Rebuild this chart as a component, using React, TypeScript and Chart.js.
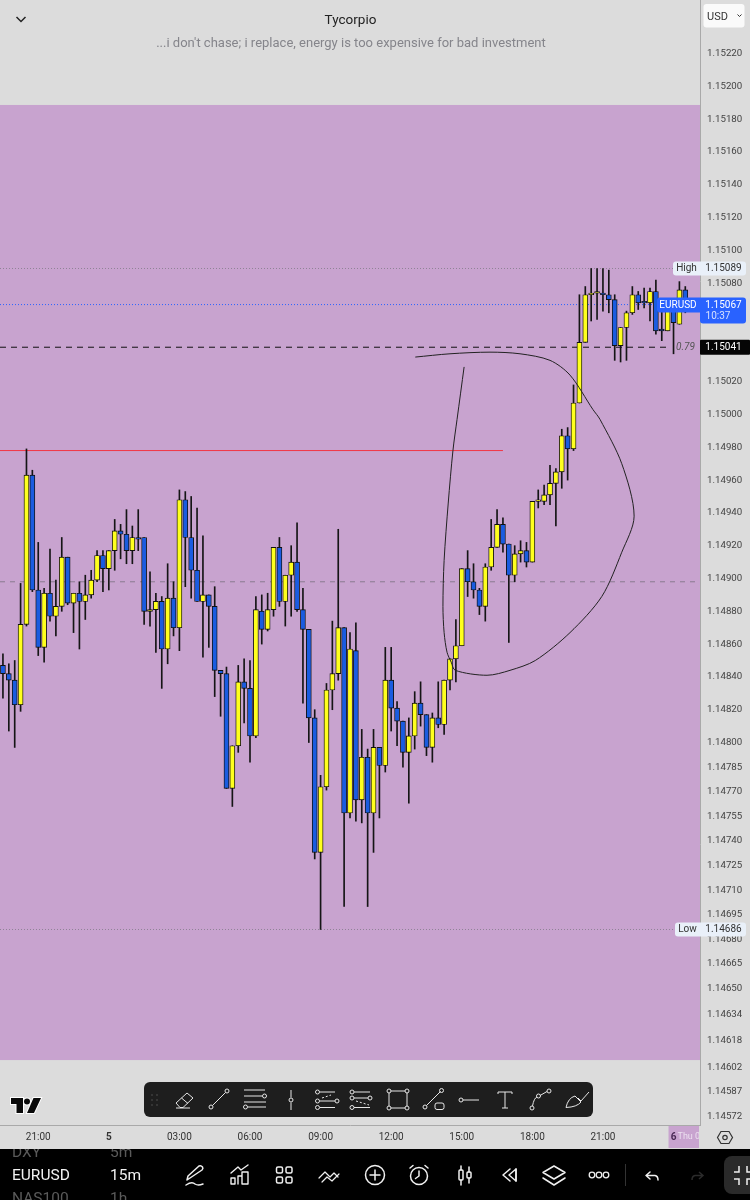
import React, { useEffect, useRef } from "react";
import { Chart, registerables } from "chart.js";

Chart.register(...registerables);

const timeSlots = [
  "19:30","19:45","20:00","20:15","20:30","20:45","21:00","21:15","21:30","21:45","22:00","22:15",
  "22:30","22:45","23:00","23:15","23:30","23:45","00:00","00:15","00:30","00:45","01:00","01:15",
  "01:30","01:45","02:00","02:15","02:30","02:45","03:00","03:15","03:30","03:45","04:00","04:15",
  "04:30","04:45","05:00","05:15","05:30","05:45","06:00","06:15","06:30","06:45","07:00","07:15",
  "07:30","07:45","08:00","08:15","08:30","08:45","09:00","09:15","09:30","09:45","10:00","10:15",
  "10:30","10:45","11:00","11:15","11:30","11:45","12:00","12:15","12:30","12:45","13:00","13:15",
  "13:30","13:45","14:00","14:15","14:30","14:45","15:00","15:15","15:30","15:45","16:00","16:15",
  "16:30","16:45","17:00","17:15","17:30","17:45","18:00","18:15","18:30","18:45","19:00","19:15",
  "19:30","19:45","20:00","20:15","20:30","20:45","21:00","21:15","21:30","21:45","22:00","22:15",
  "22:30","22:45","23:00","23:15","23:30","23:45","00:00","00:15","00:30","00:45","01:00",
];

const axisLabels = ["21:00","5","03:00","06:00","09:00","12:00","15:00","18:00","21:00","6"];
const axisLabelSlots = [6,18,30,42,54,66,78,90,102,114];

const priceTicks = [
  1.1522,1.152,1.1518,1.1516,1.1514,1.1512,1.151,1.1508,1.1506,1.1504,1.1502,1.15,1.1498,1.1496,1.1494,1.1492,1.149,
  1.1488,1.1486,1.1484,1.1482,1.148,1.14785,1.1477,1.14755,1.1474,1.14725,1.1471,1.14695,1.1468,1.14665,1.1465,
  1.14634,1.14618,1.14602,1.14587,1.14572,
];

const opens = [
  1.14847,1.14842,1.14838,1.14823,1.14872,1.14963,1.14893,1.14858,1.14891,1.14877,1.14883,1.14913,1.14885,1.14891,1.14886,1.1489,1.14899,1.14914,1.14906,1.14917,
  1.14929,1.14927,1.14917,1.14925,1.14925,1.1488,1.14881,1.14886,1.14857,1.14888,1.1487,1.14948,1.14925,1.14905,1.14886,1.1489,1.14883,1.14844,1.14842,1.14772,
  1.14798,1.14837,1.14833,1.14804,1.1488,1.14869,1.14881,1.14919,1.14886,1.14902,1.1491,1.14881,1.14869,1.14815,1.14733,1.14773,1.14832,1.14842,1.1487,1.14757,
  1.14856,1.14765,1.14791,1.14757,1.14797,1.14786,1.14838,1.14821,1.14813,1.14794,1.14804,1.14824,1.14817,1.14797,1.14815,1.14811,1.14838,1.14851,1.14859,1.14906,
  1.14898,1.14893,1.14883,1.14907,1.14919,1.14933,1.14921,1.14902,1.14915,1.14917,1.1491,1.14947,1.14947,1.14951,1.14958,1.14965,1.14987,1.14979,1.15007,1.15044,
  1.15073,1.15074,1.15074,1.15073,1.1507,1.15042,1.15053,1.15062,1.15073,1.15069,1.15068,1.15075,1.15052,1.15051,1.15064,1.15055,1.15076,
];
const highs = [
  1.14854,1.14848,1.1485,1.14897,1.14979,1.14966,1.14922,1.14894,1.14918,1.14899,1.14925,1.14913,1.14891,1.14898,1.14902,1.14905,1.14917,1.14917,1.14917,1.14936,
  1.14933,1.14942,1.14932,1.14942,1.14925,1.14904,1.14891,1.14889,1.14909,1.14898,1.14954,1.14953,1.1495,1.14943,1.14926,1.1489,1.14895,1.14844,1.14846,1.14798,
  1.14847,1.14851,1.1485,1.14889,1.1489,1.14891,1.14919,1.14925,1.14902,1.1492,1.14934,1.14894,1.14869,1.1482,1.1478,1.14836,1.14874,1.1493,1.1487,1.14867,
  1.14873,1.14808,1.14796,1.14808,1.14797,1.14858,1.14858,1.14825,1.14813,1.14815,1.14831,1.14837,1.14817,1.14818,1.14837,1.14838,1.14851,1.14875,1.14906,1.14917,
  1.14909,1.14894,1.14909,1.14936,1.14942,1.14937,1.14921,1.1492,1.14923,1.14922,1.14947,1.14954,1.14957,1.14969,1.14967,1.14991,1.14992,1.15018,1.15073,1.15078,
  1.15089,1.15089,1.15089,1.15088,1.15073,1.15053,1.15063,1.15078,1.15075,1.15077,1.15077,1.15082,1.15066,1.15066,1.15066,1.15081,1.15078,
];
const lows = [
  1.14827,1.14807,1.14797,1.14819,1.14871,1.14892,1.14853,1.14849,1.14874,1.14865,1.1488,1.14884,1.14867,1.14857,1.14875,1.14888,1.14898,1.14892,1.14893,1.14905,
  1.14912,1.14909,1.14909,1.14917,1.14872,1.14871,1.14855,1.14833,1.14848,1.14865,1.14856,1.14895,1.14888,1.14886,1.14852,1.14858,1.14828,1.14816,1.14772,1.14761,
  1.14794,1.14812,1.14788,1.14803,1.1486,1.14868,1.14877,1.14883,1.14871,1.14877,1.1488,1.14824,1.148,1.14729,1.14686,1.14771,1.1482,1.14838,1.147,1.14754,
  1.14752,1.14751,1.147,1.14733,1.14754,1.14782,1.14807,1.14798,1.14785,1.14763,1.14796,1.1481,1.14792,1.14788,1.14809,1.14805,1.14832,1.14837,1.14859,1.14889,
  1.14888,1.14878,1.14874,1.14905,1.14919,1.14916,1.14861,1.14898,1.1491,1.14907,1.1491,1.14943,1.14945,1.14945,1.14932,1.14955,1.1496,1.14978,1.15007,1.15044,
  1.15057,1.15058,1.15063,1.15062,1.15033,1.15032,1.15033,1.15061,1.15064,1.15065,1.15057,1.15049,1.15045,1.15051,1.15037,1.15055,1.15062,
];
const closes = [
  1.14842,1.14838,1.14823,1.14872,1.14963,1.14893,1.14858,1.14891,1.14877,1.14883,1.14913,1.14885,1.14891,1.14886,1.1489,1.14899,1.14914,1.14906,1.14917,1.14929,
  1.14927,1.14917,1.14925,1.14924,1.1488,1.14881,1.14886,1.14857,1.14888,1.1487,1.14948,1.14925,1.14905,1.14886,1.1489,1.14883,1.14844,1.14842,1.14772,1.14798,
  1.14837,1.14833,1.14804,1.14881,1.14869,1.14881,1.14919,1.14886,1.14902,1.1491,1.14881,1.14869,1.14815,1.14733,1.14773,1.14832,1.14842,1.1487,1.14757,1.14857,
  1.14765,1.14791,1.14757,1.14797,1.14786,1.14838,1.14821,1.14813,1.14794,1.14804,1.14824,1.14817,1.14797,1.14815,1.14811,1.14838,1.14851,1.14859,1.14906,1.14898,
  1.14893,1.14883,1.14907,1.14919,1.14933,1.14921,1.14902,1.14915,1.14917,1.1491,1.14947,1.14948,1.14951,1.14958,1.14965,1.14987,1.14979,1.15007,1.15044,1.15073,
  1.15074,1.15075,1.15073,1.1507,1.15042,1.15053,1.15062,1.15073,1.15068,1.15068,1.15075,1.15051,1.15051,1.15064,1.15056,1.15076,1.15067,
];

const drawnCurveSlots = [78.4,77.2,76.5,75.7,75,74.8,75,75.5,76.2,76.9,82.3,86.2,90.5,96.4,101.8,105.2,107.3,105.2,101.5,100.3,96.4,93,87.9,82.8,76,70.1];
const drawnCurvePrices = [1.15029,1.14997,1.14978,1.14946,1.14911,1.14883,1.14867,1.14855,1.14849,1.14844,1.14841,1.14844,1.1485,1.14867,1.14889,1.14916,1.14938,1.1497,1.14997,1.15003,1.15024,1.15033,1.15037,1.15038,1.15037,1.15035];

const highPrice = 1.15089;
const lowPrice = 1.14686;
const lastPrice = 1.15067;
const fibPrice = 1.15041;
const redLinePrice = 1.14978;
const prevClosePrice = 1.14898;
const redLineEndSlot = 85;
const fibLineEndSlot = 113.4;
const bandTopPrice = 1.151887;
const bandBottomPrice = 1.146064;
const axisMaxPrice = 1.152527;
const axisMinPrice = 1.145668;

const FONT = "Roboto";
const GRAY = "#dcdcdc";
const PURPLE = "#c8a3cf";

const hLine = (y: number, color: string, dash: number[], end = timeSlots.length - 0.5, width = 1) => ({
  type: "line" as const,
  xAxisID: "xDraw",
  data: [{ x: -0.5, y }, { x: end, y }],
  borderColor: color,
  borderWidth: width,
  borderDash: dash,
  pointRadius: 0,
  order: 5,
});

const noPadding = (s: any) => {
  s.paddingLeft = 0;
  s.paddingRight = 0;
  s.paddingTop = 0;
  s.paddingBottom = 0;
};

const chromePlugin = {
  id: "chrome",
  beforeDraw(chart: any) {
    const { ctx, scales } = chart;
    const left = scales.x.getPixelForValue(113.15);
    ctx.save();
    ctx.fillStyle = PURPLE;
    ctx.fillRect(left, chart.chartArea.bottom + 1, chart.chartArea.right - left - 1, 22);
    ctx.restore();
  },
  beforeDatasetsDraw(chart: any) {
    const { ctx, chartArea, scales } = chart;
    const top = scales.y.getPixelForValue(bandTopPrice);
    const bottom = scales.y.getPixelForValue(bandBottomPrice);
    ctx.save();
    ctx.fillStyle = PURPLE;
    ctx.fillRect(chartArea.left, top, chartArea.right - chartArea.left, bottom - top);
    ctx.restore();
  },
  afterDraw(chart: any) {
    const { ctx, scales } = chart;
    const y = scales.y;
    const rr = (x: number, top: number, w: number, h: number, r: number | number[], fill: string) => {
      ctx.beginPath();
      ctx.roundRect(x, top, w, h, r);
      ctx.fillStyle = fill;
      ctx.fill();
    };
    const text = (s: string, x: number, yy: number, color: string, font: string, align: CanvasTextAlign = "center") => {
      ctx.fillStyle = color;
      ctx.font = font;
      ctx.textAlign = align;
      ctx.textBaseline = "middle";
      ctx.fillText(s, x, yy);
    };
    ctx.save();
    const normal = `10px ${FONT}`;
    const hy = y.getPixelForValue(highPrice);
    rr(673, hy - 7, 27, 14, [3, 0, 0, 3], "#e9f0f9");
    rr(700, hy - 7, 46, 14, [0, 3, 3, 0], "#e9f0f9");
    text("High", 686.5, hy, "#333", normal);
    text(highPrice.toFixed(5), 723.5, hy, "#333", normal);

    const ly = y.getPixelForValue(lowPrice);
    rr(675, ly - 7, 25, 14, [3, 0, 0, 3], "#e9f0f9");
    rr(700, ly - 7, 46, 14, [0, 3, 3, 0], "#e9f0f9");
    text("Low", 687.5, ly, "#333", normal);
    text(lowPrice.toFixed(5), 723.5, ly, "#333", normal);

    const cy = y.getPixelForValue(lastPrice);
    rr(657, cy - 7, 43, 15, [3, 0, 0, 3], "#2962ff");
    rr(700, cy - 7, 46, 26, [0, 3, 3, 3], "#2962ff");
    text("EURUSD", 678, cy + 0.5, "#fff", normal);
    text(lastPrice.toFixed(5), 723.5, cy + 0.5, "#fff", normal);
    text("10:37", 718, cy + 12, "#d5e0ff", normal);

    const fy = y.getPixelForValue(fibPrice);
    rr(700, fy - 7.5, 50, 15, 1, "#050505");
    text(fibPrice.toFixed(5), 723.5, fy, "#fff", normal);
    text("0.79", 676, fy, "#555", `italic ${normal}`, "left");

    const bx = scales.x.getPixelForValue(114) + 4;
    ctx.beginPath();
    ctx.rect(bx, chart.chartArea.bottom, 699 - bx, 24);
    ctx.clip();
    text("Thu 0", bx, chart.chartArea.bottom + 12, "#ecdff0", `9px ${FONT}`, "left");
    ctx.restore();
  },
};

const Stroke = { fill: "none", stroke: "#e6e6e6", strokeWidth: 1 };
const White = { fill: "none", stroke: "#f0f0f0", strokeWidth: 1.5, strokeLinecap: "round" as const, strokeLinejoin: "round" as const };

function Dot({ x, y, r = 2 }: { x: number; y: number; r?: number }) {
  return <circle cx={x} cy={y} r={r} />;
}

function Chrome() {
  return (
    <svg width={750} height={1200} style={{ position: "absolute", left: 0, top: 0, pointerEvents: "none" }} fontFamily={FONT}>
      <defs>
        <clipPath id="bar"><rect x={0} y={1149} width={750} height={51} /></clipPath>
      </defs>
      <path d="M16.5 17 L21 21.5 L25.5 17" fill="none" stroke="#222" strokeWidth={1.5} />
      <text x={350.5} y={24} textAnchor="middle" fontSize={13.5} fill="#222">Tycorpio</text>
      <text x={351} y={47} textAnchor="middle" fontSize={13} fill="#85858b">...i don't chase; i replace, energy is too expensive for bad investment</text>
      <rect x={703.5} y={4} width={41} height={23.5} rx={3} fill="#fafafa" />
      <text x={707} y={20} fontSize={11} fill="#333">USD</text>
      <path d="M737.5 14.5 L739.5 16.5 L741.5 14.5" fill="none" stroke="#333" strokeWidth={1} />

      <g stroke="#fff" strokeWidth={2} paintOrder="stroke" fill="#0a0a0a">
        <path d="M11 1098 H23 V1113 H16.5 V1104 H11 Z" />
        <circle cx={27} cy={1101.5} r={3} />
        <path d="M33.5 1098 H41 L34 1113 H27 Z" />
      </g>

      <rect x={144} y={1082} width={449} height={35} rx={6} fill="#1e1e1e" />
      <g fill="#555">
        <Dot x={152} y={1095} r={0.8} /><Dot x={157} y={1095} r={0.8} />
        <Dot x={152} y={1100} r={0.8} /><Dot x={157} y={1100} r={0.8} />
        <Dot x={152} y={1105} r={0.8} /><Dot x={157} y={1105} r={0.8} />
      </g>
      <g {...Stroke}>
        <path d="M176 1103 L187 1093 L193 1098 L183 1107.5 L180 1107.5 Z M181.5 1098 L188 1103.5 M176 1108 H190" />
        <path d="M212.5 1105.5 L225.5 1092.5" /><Dot x={211} y={1107} /><Dot x={227} y={1091} />
        <path d="M244 1090 H265 M244 1096 H262 M244 1102 H266 M248 1107 H266" /><Dot x={264.5} y={1096} /><Dot x={245.5} y={1107} />
        <path d="M291 1090 V1097.5 M291 1102.5 V1110" /><Dot x={291} y={1100} />
        <path d="M320 1092 H335 M320 1101 H335 M320 1107.5 H335" /><Dot x={317.5} y={1092} /><Dot x={317.5} y={1101} /><Dot x={317.5} y={1107.5} /><Dot x={337} y={1101} />
        <path d="M322 1098 L331 1095" strokeDasharray="2 2" />
        <path d="M354 1092 H370 M354 1098 H368 M354 1107.5 H370" /><Dot x={352} y={1092} /><Dot x={352} y={1098} /><Dot x={352} y={1107.5} /><Dot x={370} y={1098} />
        <path d="M356 1101 L369 1105" strokeDasharray="2 2" />
        <rect x={389} y={1091} width={18} height={17} /><g fill="#1e1e1e"><Dot x={389} y={1091} /><Dot x={407} y={1091} /><Dot x={389} y={1108} /><Dot x={407} y={1108} /></g>
        <path d="M426.5 1105.5 L440.5 1091.5" /><Dot x={425} y={1107} /><Dot x={441.5} y={1090.5} /><rect x={435} y={1103} width={9} height={6.5} rx={2} />
        <path d="M463 1100 H479" /><Dot x={461} y={1100} />
        <path d="M498 1094 V1092 H512 V1094 M505 1092 V1108 M502 1108 H508" />
        <path d="M532.5 1106 Q534 1098 537 1097 M540 1095.5 L547 1091.5" /><Dot x={532} y={1108} /><Dot x={538.5} y={1096} /><Dot x={549} y={1091} />
        <path d="M566 1107.5 Q568 1098 575 1096 L581 1102 Q577 1107 566 1107.5 Z M578 1098 L581 1101 L589 1092" />
      </g>

      <path d="M721 1131.5 H729 L732.5 1137.5 L729 1143.5 H721 L717.5 1137.5 Z" fill="none" stroke="#333" strokeWidth={1.2} />
      <circle cx={725} cy={1137.5} r={2.2} fill="none" stroke="#333" strokeWidth={1.2} />

      <rect x={0} y={1149} width={750} height={51} fill="#000" />
      <g clipPath="url(#bar)" fontSize={15.5}>
        <text x={12} y={1157} fill="#5a5a5a">DXY</text>
        <text x={110} y={1157} fill="#5a5a5a">5m</text>
        <text x={12} y={1180} fill="#f2f2f2">EURUSD</text>
        <text x={110} y={1180} fill="#f2f2f2">15m</text>
        <text x={12} y={1203} fill="#5a5a5a">NAS100</text>
        <text x={110} y={1203} fill="#5a5a5a">1h</text>
      </g>
      <g {...White}>
        <path d="M190 1178 L187 1180 L188 1176 L199 1166 Q201 1165 202.5 1167 Q203.5 1168.5 202 1170 Z M186 1185 Q192 1181 195 1184 Q198 1186 203 1184" />
        <path d="M231 1173 L238 1167 L241 1170 L248 1165 M231 1184 V1178 H235 V1184 Z M238 1184 V1176 H242 V1184 M242 1184 V1172 H248 V1184 Z" strokeWidth={1.4} />
        <rect x={276.5} y={1167} width={6} height={6} rx={1.5} /><rect x={286} y={1167} width={6} height={6} rx={1.5} />
        <rect x={276.5} y={1177} width={6} height={6} rx={1.5} /><rect x={286} y={1177} width={6} height={6} rx={1.5} />
        <path d="M319 1178 L325 1172 L330 1177 L334 1173 L338 1177 M322 1182 L327 1177 L332 1181 L339 1174" strokeWidth={1.2} />
        <circle cx={375} cy={1175} r={9.5} /><path d="M375 1170 V1180 M370 1175 H380" />
        <circle cx={419} cy={1176} r={8.5} /><path d="M419 1171 V1176 L415.5 1178.5 M410 1168 L413 1165.5 M428 1168 L425 1165.5" />
        <rect x={459} y={1170} width={4} height={10} rx={1} /><path d="M461 1166 V1170 M461 1180 V1185" />
        <rect x={467} y={1172} width={4} height={6} rx={1} /><path d="M469 1167 V1172 M469 1178 V1183" />
        <path d="M510 1169 L503 1175 L510 1181 M516 1169 L509 1175 L516 1181 Z" /><path d="M516 1169 V1181" />
        <path d="M554 1166 L565 1172.5 L554 1179 L543 1172.5 Z M543 1178 L554 1185 L565 1178" />
        <circle cx={592} cy={1175} r={2.8} strokeWidth={1.3} /><circle cx={599} cy={1175} r={2.8} strokeWidth={1.3} /><circle cx={606} cy={1175} r={2.8} strokeWidth={1.3} />
        <path d="M650 1172 L646 1175.5 L650 1179 M646 1175.5 H655 Q658 1176 658 1180" />
      </g>
      <path d="M625.5 1164 V1186" stroke="#333" strokeWidth={1} />
      <path d="M699 1172 L703 1175.5 L699 1179 M703 1175.5 H695 Q692 1176 692 1180" fill="none" stroke="#2b2b2b" strokeWidth={1.5} />
      <rect x={724} y={1156} width={34} height={38} rx={8} fill="#2a2a2a" />
      <path d="M739 1166 V1172 H734 M739 1185 V1179 H734 M747 1166 V1172 H750 M747 1185 V1179 H750" fill="none" stroke="#f0f0f0" strokeWidth={1.5} />
    </svg>
  );
}

export default function App() {
  const ref = useRef<HTMLCanvasElement>(null);

  useEffect(() => {
    document.body.style.margin = "0";
    const chart = new Chart(ref.current as HTMLCanvasElement, {
      type: "bar",
      data: {
        labels: timeSlots,
        datasets: [
          hLine(prevClosePrice, "#8a7a90", [5, 5]),
          hLine(highPrice, "#8f8396", [1, 2]),
          hLine(lowPrice, "#8f8396", [1, 2]),
          hLine(lastPrice, "#2962ff", [1, 2]),
          hLine(fibPrice, "#111111", [6, 5], fibLineEndSlot),
          hLine(redLinePrice, "#f23645", [], redLineEndSlot),
          {
            label: "wick",
            data: lows.map((l, i) => [l, highs[i]]),
            backgroundColor: "#151515",
            barThickness: 1,
            grouped: false,
            order: 3,
          },
          {
            label: "body",
            data: opens.map((o, i) => [o, closes[i]]),
            backgroundColor: opens.map((o, i) => (closes[i] >= o ? "#ffff1e" : "#1a5ce0")),
            borderColor: "#111111",
            borderWidth: 0.9,
            borderSkipped: false,
            barThickness: 5,
            grouped: false,
            order: 2,
          },
          {
            type: "line",
            label: "drawing",
            xAxisID: "xDraw",
            data: drawnCurveSlots.map((x, i) => ({ x, y: drawnCurvePrices[i] })),
            borderColor: "#222222",
            borderWidth: 1,
            pointRadius: 0,
            tension: 0.3,
            order: 1,
          },
        ] as any,
      },
      options: {
        responsive: false,
        animation: false,
        layout: { padding: { left: 0, top: 0, right: 0, bottom: 52 } },
        plugins: { legend: { display: false }, tooltip: { enabled: false }, title: { display: false } },
        scales: {
          x: {
            type: "category",
            offset: true,
            grid: { display: false, drawTicks: false },
            border: { color: "#a9a9a9" },
            afterFit: (s: any) => { s.height = 23; noPadding(s); },
            ticks: {
              autoSkip: false,
              maxRotation: 0,
              minRotation: 0,
              padding: 6,
              color: (c: any) => (axisLabelSlots.indexOf(c.index) === 9 ? "#4a2a55" : "#333"),
              font: (c: any) => {
                const k = axisLabelSlots.indexOf(c.index);
                return { family: FONT, size: 10, weight: k === 1 || k === 9 ? "bold" : "normal" };
              },
              callback: (_v: any, i: number) => {
                const k = axisLabelSlots.indexOf(i);
                return k >= 0 ? axisLabels[k] : "";
              },
            },
          },
          xDraw: { type: "linear", display: false, offset: false, min: -0.5, max: timeSlots.length - 0.5 },
          y: {
            position: "right",
            min: axisMinPrice,
            max: axisMaxPrice,
            grid: { display: false, drawTicks: false },
            border: { color: "#a9a9a9" },
            afterFit: (s: any) => { s.width = 50; noPadding(s); },
            afterBuildTicks: (s: any) => { s.ticks = priceTicks.map((value) => ({ value })); },
            ticks: {
              autoSkip: false,
              padding: 7,
              color: "#444",
              font: { family: FONT, size: 9.7 },
              callback: (v: any) => Number(v).toFixed(5),
            },
          },
        },
      } as any,
      plugins: [chromePlugin],
    });
    return () => chart.destroy();
  }, []);

  return (
    <div style={{ position: "relative", width: 750, height: 1200, overflow: "hidden", background: GRAY }}>
      <canvas ref={ref} width={750} height={1200} style={{ position: "absolute", left: 0, top: 0, display: "block" }} />
      <Chrome />
    </div>
  );
}
